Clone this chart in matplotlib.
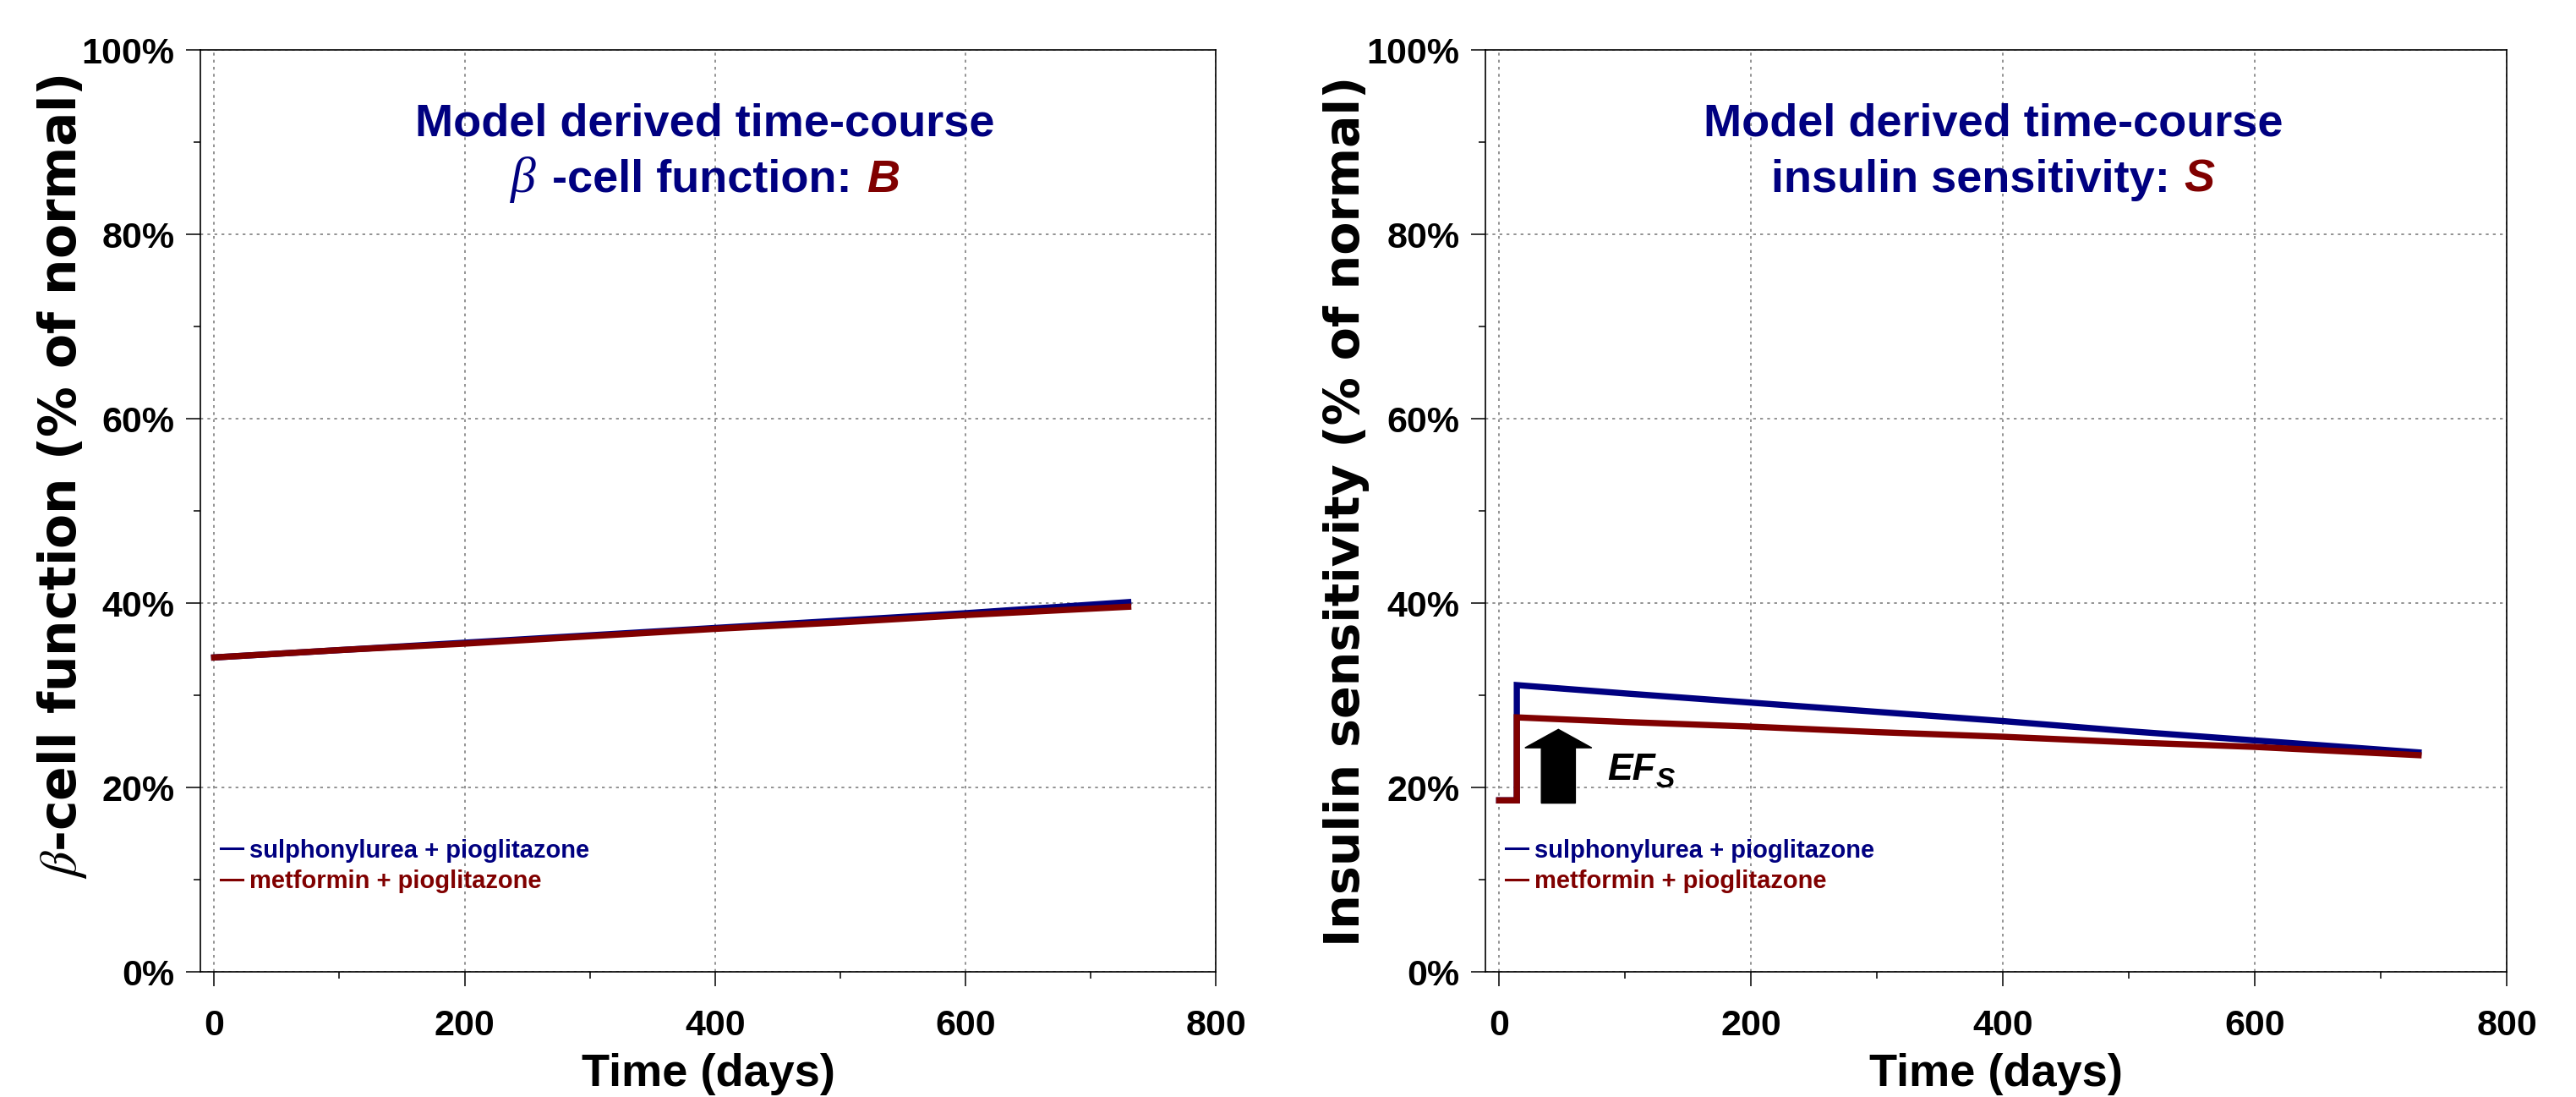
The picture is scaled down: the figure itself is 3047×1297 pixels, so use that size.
import matplotlib
matplotlib.use("Agg")
import matplotlib.pyplot as plt
from matplotlib.lines import Line2D
from matplotlib.ticker import MultipleLocator, FuncFormatter

plt.rcParams["font.family"] = ["Liberation Sans", "DejaVu Sans"]
plt.rcParams["mathtext.fontset"] = "stix"

# data
days_b = [0, 100, 200, 300, 400, 500, 600, 730]
beta_su = [34.1, 34.9, 35.7, 36.5, 37.3, 38.1, 38.9, 40.1]
beta_mp = [34.1, 34.9, 35.6, 36.4, 37.2, 37.9, 38.7, 39.6]

days_s = [0, 14, 14, 100, 200, 300, 400, 500, 600, 730]
sens_su = [18.6, 18.6, 31.1, 30.2, 29.2, 28.2, 27.2, 26.1, 25.1, 23.8]
sens_mp = [18.6, 18.6, 27.6, 27.1, 26.6, 26.0, 25.5, 24.9, 24.4, 23.5]

labels = ["sulphonylurea + pioglitazone", "metformin + pioglitazone"]
blue = "#000080"
red = "#800000"

# EF_S arrow (day, % base, % length)
arrow_day, arrow_base, arrow_len = 47, 18.3, 8.0

fig = plt.figure(figsize=(30.47, 12.97), dpi=100)
ax1 = fig.add_axes([0.0778, 0.1141, 0.3942, 0.8404])
ax2 = fig.add_axes([0.5766, 0.1141, 0.3965, 0.8404])


def style_axes(ax, ylabel, ylabel_size, ylabel_y):
    ax.set_xlim(-11, 800)
    ax.set_ylim(0, 100)
    ax.xaxis.set_major_locator(MultipleLocator(200))
    ax.xaxis.set_minor_locator(MultipleLocator(100))
    ax.yaxis.set_major_locator(MultipleLocator(20))
    ax.yaxis.set_minor_locator(MultipleLocator(10))
    ax.yaxis.set_major_formatter(FuncFormatter(lambda v, p: "%d%%" % v))
    ax.grid(True, which="major", color="#808080", linestyle=(0, (2, 3)), linewidth=1.2)
    ax.tick_params(which="major", direction="out", length=12, width=1.1)
    ax.tick_params(which="minor", direction="out", length=6, width=1.1)
    ax.tick_params(axis="x", which="major", pad=20)
    ax.tick_params(axis="y", which="major", pad=10)
    for lab in ax.get_xticklabels() + ax.get_yticklabels():
        lab.set_fontsize(31)
        lab.set_fontweight("bold")
    for sp in ax.spines.values():
        sp.set_linewidth(1.2)
        sp.set_color("black")
    ax.set_xlabel("Time (days)", fontsize=39, fontweight="bold")
    ax.xaxis.set_label_coords(0.5, -0.088)
    ax.set_ylabel(ylabel, fontsize=ylabel_size, fontweight="bold", family="DejaVu Sans",
                  va="center")
    ax.yaxis.set_label_coords(-0.136, ylabel_y)
    handles = [Line2D([], [], color=blue, lw=2.2), Line2D([], [], color=red, lw=2.2)]
    leg = ax.legend(handles, labels, loc="lower left", bbox_to_anchor=(0.02, 0.085),
                    frameon=False, borderpad=0, borderaxespad=0, handlelength=0.9,
                    handletextpad=0.25, labelspacing=0.3,
                    prop={"size": 21, "weight": "bold"})
    for txt, c in zip(leg.get_texts(), [blue, red]):
        txt.set_color(c)


def title(ax, second, letter, with_beta=False):
    ax.text(0.497, 0.907, "Model derived time-course", transform=ax.transAxes,
            ha="center", va="baseline", fontsize=39, fontweight="bold", color=blue)
    parts = []
    if with_beta:
        b = ax.text(0.3, 0.846, "β", transform=ax.transAxes, va="baseline",
                    fontsize=43, style="italic", family="Liberation Serif", color=blue)
        mid = ax.annotate(second, xy=(1, 0.846), xycoords=(b, "axes fraction"),
                          xytext=(14, 0), textcoords="offset points", va="baseline",
                          fontsize=39, fontweight="bold", color=blue)
        parts = [b, mid]
    else:
        mid = ax.text(0.3, 0.846, second, transform=ax.transAxes, va="baseline",
                      fontsize=39, fontweight="bold", color=blue)
        parts = [mid]
    last = ax.annotate(letter, xy=(1, 0.846), xycoords=(mid, "axes fraction"),
                       xytext=(12, 0), textcoords="offset points", va="baseline",
                       fontsize=39, fontweight="bold", style="italic", color=red)
    parts.append(last)
    return parts


style_axes(ax1, r"$\beta$-cell function (% of normal)", 43, 0.537)
style_axes(ax2, "Insulin sensitivity (% of normal)", 41, 0.5)

ax1.plot(days_b, beta_su, color=blue, lw=5.3, zorder=3)
ax1.plot(days_b, beta_mp, color=red, lw=5.3, zorder=3)
ax2.plot(days_s, sens_su, color=blue, lw=5.3, zorder=3, solid_joinstyle="miter")
ax2.plot(days_s, sens_mp, color=red, lw=5.3, zorder=3, solid_joinstyle="miter")

ax2.arrow(arrow_day, arrow_base, 0, arrow_len, width=27, head_width=53, head_length=2.0,
          length_includes_head=True, color="black", zorder=4)
ef = ax2.text(86, 20.8, "EF", fontsize=32, fontweight="bold", style="italic",
              va="baseline")
ax2.annotate("S", xy=(1, 20.8), xycoords=(ef, "data"), xytext=(0, -6),
             textcoords="offset points", va="baseline", fontsize=24,
             fontweight="bold", style="italic")

lines = [(ax1, title(ax1, "-cell function:", "B", True)),
         (ax2, title(ax2, "insulin sensitivity:", "S"))]

# center the second title lines
fig.canvas.draw()
for ax, parts in lines:
    bb0 = parts[0].get_window_extent()
    bb1 = parts[-1].get_window_extent()
    centre = (bb0.x0 + bb1.x1) / 2
    target = ax.transAxes.transform((0.497, 0))[0]
    x, y = parts[0].get_position()
    parts[0].set_x(x + (target - centre) / ax.bbox.width)

fig.savefig("out.png", dpi=100)
